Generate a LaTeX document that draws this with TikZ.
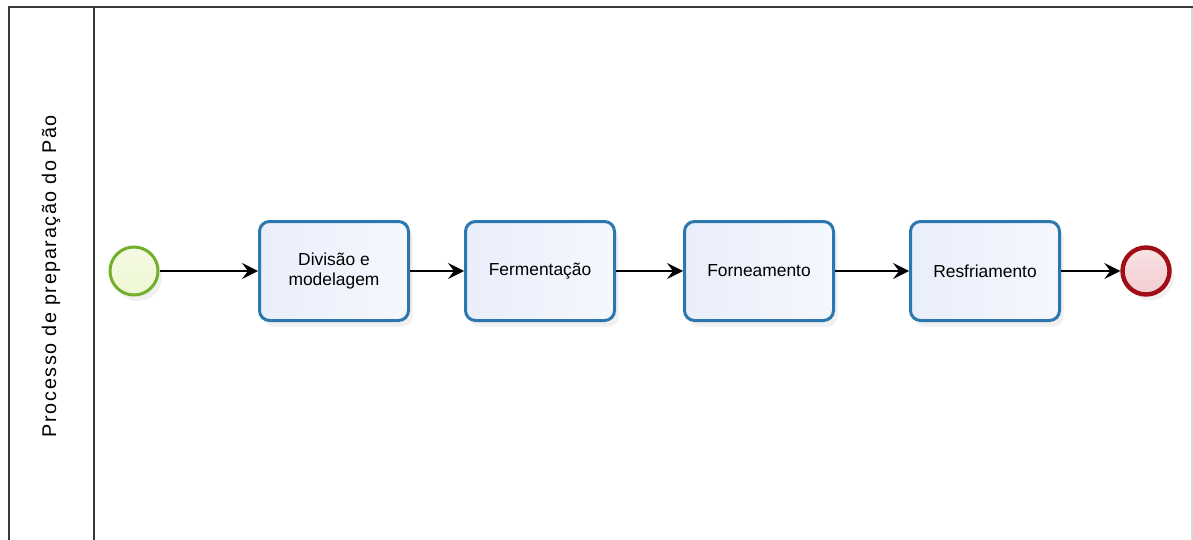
\documentclass[tikz,border=0pt]{standalone}
\usepackage{fontspec}
\setmainfont{Liberation Sans}
\newfontfamily\lanefont[LetterSpace=8]{Liberation Sans}
\usepackage{tikz}
\usetikzlibrary{arrows.meta,shadows}

\definecolor{taskblue}{HTML}{2C78AE}
\definecolor{taskfill}{HTML}{E9EEFB}
\definecolor{startgreen}{HTML}{72B02C}
\definecolor{startfill}{HTML}{EEF7D2}
\definecolor{endred}{HTML}{A00D14}
\definecolor{endfill}{HTML}{F2CCD0}
\definecolor{poolline}{HTML}{383838}

\begin{document}
\begin{tikzpicture}[
            x=0.5pt,
            y=-0.5pt,
            task/.style={draw=taskblue, line width=1.5pt, rounded corners=5pt,
              left color=taskfill, right color=taskfill!45,
              drop shadow={opacity=0.12, shadow xshift=2pt, shadow yshift=-3pt},
              minimum width=74.5pt, minimum height=49.5pt, align=center,
              font=\fontsize{8.7pt}{10pt}\selectfont},
            startev/.style={draw=startgreen, line width=1.5pt, circle, minimum size=24pt,
              inner sep=0pt, top color=startfill!60, bottom color=startfill,
              drop shadow={opacity=0.12, shadow xshift=2pt, shadow yshift=-3pt}},
            endev/.style={draw=endred, line width=2.2pt, circle, minimum size=23.5pt,
              inner sep=0pt, top color=endfill!55, bottom color=endfill,
              drop shadow={opacity=0.12, shadow xshift=2pt, shadow yshift=-3pt}},
            flow/.style={-{Stealth[length=8pt, width=8pt, inset=3pt]}, line width=0.8pt},
          ]
          \useasboundingbox (0,0) rectangle (1193,540);
          % pool and lane
          \draw[poolline, line width=1pt] (9,540) -- (9,7) -- (1193,7);
          \draw[poolline, line width=0.8pt] (94,7) -- (94,540);
          \draw[black!15, line width=0.6pt] (1192,8) -- (1192,540);
          \node[rotate=90, font=\lanefont\fontsize{9.9pt}{11pt}\selectfont] (lane) at (51,276) {Processo de preparação do Pão};
          % events and tasks
          \node[startev] (inicio) at (134,271) {};
          \node[task] (divisao) at (334,271) {Divisão e\\modelagem};
          \node[task] (ferment) at (540,271) {Fermentação};
          \node[task] (forno) at (759,271) {Forneamento};
          \node[task] (resfr) at (985,271) {Resfriamento};
          \node[endev] (fim) at (1146,271) {};
          % sequence flows
          \foreach \a/\b in {inicio/divisao, divisao/ferment, ferment/forno, forno/resfr, resfr/fim} {
            \draw[flow] (\a) -- (\b);
          }
        \end{tikzpicture}
\end{document}
